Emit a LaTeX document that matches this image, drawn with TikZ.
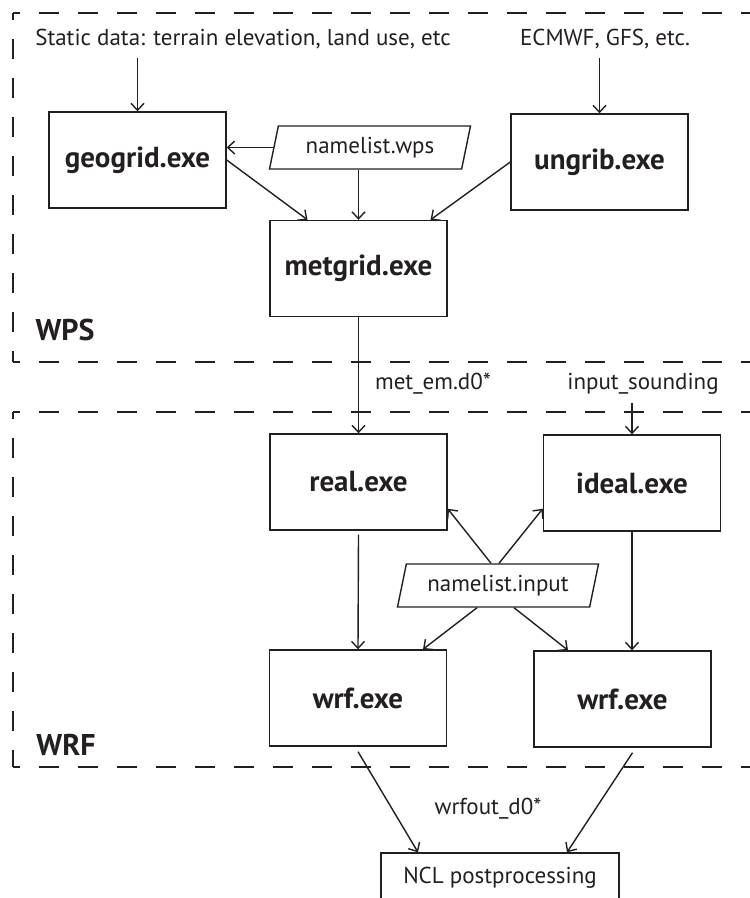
\documentclass[tikz,border=0pt]{standalone}
\usepackage{fontspec}
\setmainfont{PT Sans}
\usetikzlibrary{arrows.meta,shapes.geometric}
\definecolor{ink}{HTML}{231F20}
\begin{document}
\begin{tikzpicture}[x=1pt,y=-1pt, line width=1.4pt, color=ink,
  every node/.style={inner sep=0pt},
  exebox/.style={draw, rectangle, minimum width=177pt, minimum height=96pt, font=\fontsize{29}{32}\selectfont\bfseries},
  plain/.style={font=\fontsize{23}{26}\selectfont},
  para/.style={draw, trapezium, trapezium left angle=67, trapezium right angle=113, trapezium stretches body, minimum height=43pt, minimum width=201pt, font=\fontsize{23}{26}\selectfont},
  arr/.style={-{Straight Barb[length=7pt,width=13pt]}},
  grp/.style={dash pattern=on 20pt off 19pt, dash phase=13pt},
  lbl/.style={font=\fontsize{30}{33}\selectfont\bfseries}]
\useasboundingbox (0,0) rectangle (750,898);
\clip (0,0) rectangle (750,898);

% group frames
\draw[grp] (13,13) -- (750,13);
\draw[grp] (13,13) -- (13,362);
\draw[grp] (13,362) -- (750,362);
\draw[grp] (13,412) -- (750,412);
\draw[grp] (13,412) -- (13,767);
\draw[grp] (13,767) -- (750,767);

% texts
\node[plain] (static) at (243,39) {Static data: terrain elevation, land use, etc};
\node[plain] (ecmwf) at (605,39) {ECMWF, GFS, etc.};
\node[lbl] (wps) at (65,330) {WPS};
\node[lbl] (wrf) at (66,745) {WRF};
\node[plain] (metem) at (433,384) {met\_em.d0*};
\node[plain] (isnd) at (643,384) {input\_sounding};
\node[plain] (wrfout) at (488,809) {wrfout\_d0*};

% boxes
\node[exebox] (geogrid) at (137.5,160) {geogrid.exe};
\node[exebox] (ungrib) at (599.5,162) {ungrib.exe};
\node[exebox] (metgrid) at (358.5,268.5) {metgrid.exe};
\node[exebox] (real) at (358.5,482) {real.exe};
\node[exebox] (ideal) at (632,483) {ideal.exe};
\node[exebox] (wrfa) at (358,698) {wrf.exe};
\node[exebox] (wrfb) at (622.5,699) {wrf.exe};
\node[draw, rectangle, minimum width=238pt, minimum height=50pt, font=\fontsize{23}{26}\selectfont] (ncl) at (500,878) {NCL postprocessing};

\node[para] (nlwps) at (370,147.5) {namelist.wps};
\node[para] (nlin) at (498,585.5) {namelist.input};

% connectors
\draw[arr] (geogrid.north |- static.south) ++(0,-8pt) -- (geogrid.north);
\draw[arr] (ungrib.north |- ecmwf.south) ++(0,-8pt) -- (ungrib.north);
\draw[arr] (nlwps.west) -- (nlwps.west -| geogrid.east);
\draw[arr] (metgrid.north |- nlwps.south) -- (metgrid.north);
\draw[arr] (geogrid.east) -- ([xshift=-51pt]metgrid.north);
\draw[arr] (ungrib.west) -- ([xshift=72pt]metgrid.north);
\draw[arr] (metgrid.south) -- (real.north);
\draw[arr] (ideal.north |- isnd.south) ++(0,-8pt) -- (ideal.north);
\draw[arr] ([xshift=-7pt]nlin.north) -- ([yshift=22pt]real.south east);
\draw[arr] ([xshift=1pt]nlin.north) -- ([yshift=23pt]ideal.south west);
\draw[arr] ([xshift=-21pt]nlin.south) -- ([xshift=65pt]wrfa.north);
\draw[arr] ([xshift=16pt]nlin.south) -- ([xshift=-54.5pt]wrfb.north);
\draw[arr] ([yshift=-4pt]real.south) -- (wrfa.north);
\draw[arr] (ideal.south) -- (ideal.south |- wrfb.north);
\draw[arr] ([yshift=-5pt]wrfa.south) -- ([xshift=-82pt]ncl.north);
\draw[arr] ([xshift=10pt,yshift=-5pt]wrfb.south) -- ([xshift=67pt]ncl.north);
\end{tikzpicture}
\end{document}
